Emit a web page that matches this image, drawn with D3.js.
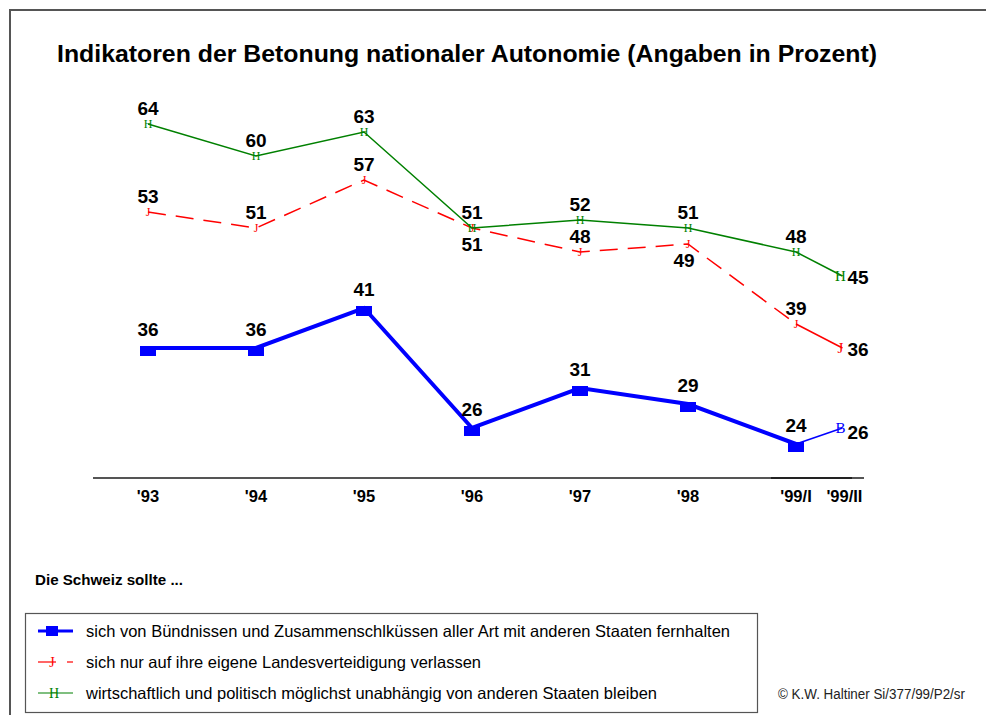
<!DOCTYPE html>
<html>
<head>
<meta charset="utf-8">
<script src="https://cdn.jsdelivr.net/npm/d3@7"></script>
<style>
  body { margin: 0; background: #fff; }
  text { font-family: Arial, "Liberation Sans", sans-serif; }
</style>
</head>
<body>
<div id="chart"></div>
<script>
// survey waves and the three indicators (percent)
const periods = ["'93", "'94", "'95", "'96", "'97", "'98", "'99/I", "'99/II"];
const surveyTime = [1993, 1994, 1995, 1996, 1997, 1998, 1999, 1999.43];
const fernhalten = [36, 36, 41, 26, 31, 29, 24, 26];
const landesverteidigung = [53, 51, 57, 51, 48, 49, 39, 36];
const unabhaengig = [64, 60, 63, 51, 52, 51, 48, 45];
const legendLabels = [
  "sich von Bündnissen und Zusammenschlküssen aller Art mit anderen Staaten fernhalten",
  "sich nur auf ihre eigene Landesverteidigung verlassen",
  "wirtschaftlich und politisch möglichst unabhängig von anderen Staaten bleiben"
];
const legendWidths = [644, 395, 571];

const w = 986;
const h = 715;
const svg = d3.select("#chart").append("svg").attr("width", w).attr("height", h);

const x = d3.scaleLinear().domain([1993, 1999]).range([148, 796]);
const y = d3.scaleLinear().domain([0, 64]).range([636, 124]);

// frame
svg.append("path")
  .attr("d", "M10," + h + "V10H" + w)
  .attr("fill", "none")
  .attr("stroke", "#555")
  .attr("stroke-width", 2);

svg.append("text")
  .attr("x", 57)
  .attr("y", 62)
  .attr("font-size", 24)
  .attr("font-weight", "bold")
  .attr("textLength", 820)
  .attr("lengthAdjust", "spacingAndGlyphs")
  .text("Indikatoren der Betonung nationaler Autonomie (Angaben in Prozent)");

// x axis
const xAxis = svg.append("g").attr("transform", "translate(0,478)");
xAxis.append("line")
  .attr("x1", 93).attr("x2", 864)
  .attr("stroke", "#555").attr("stroke-width", 2);
xAxis.append("line")
  .attr("x1", 771).attr("x2", 852)
  .attr("stroke", "#222").attr("stroke-width", 2);
xAxis.selectAll("text.tick")
  .data(periods)
  .enter()
  .append("text")
  .attr("class", "tick")
  .attr("x", (d, i) => (i === 7 ? x(surveyTime[i]) + 2 : x(surveyTime[i])))
  .attr("y", 24)
  .attr("text-anchor", "middle")
  .attr("font-size", 16.5)
  .attr("font-weight", "bold")
  .text((d) => d);

const series = [
  { values: fernhalten, color: "#0000ff", width: 4, dash: null, glyph: "B",
    place: ["t", "t", "t", "t", "t", "t", "t", "r"] },
  { values: landesverteidigung, color: "#ff0000", width: 1.5, dash: "18,10", glyph: "J",
    place: ["t", "t", "t", "b", "t", "bl", "t", "r"] },
  { values: unabhaengig, color: "#008000", width: 1.5, dash: null, glyph: "H",
    place: ["t", "t", "t", "t", "t", "t", "t", "r"] }
];

const line = d3.line().x((d) => x(d.t)).y((d) => y(d.v));

series.forEach((s, si) => {
  const pts = s.values.map((v, i) => ({ v: v, t: surveyTime[i], i: i }));
  const g = svg.append("g");
  // main stretch up to '99/I
  g.append("path")
    .attr("d", line(pts.slice(0, 7)))
    .attr("fill", "none")
    .attr("stroke", s.color)
    .attr("stroke-width", s.width)
    .attr("stroke-dasharray", s.dash);
  // last wave drawn thin and solid
  g.append("path")
    .attr("d", line(pts.slice(6)))
    .attr("fill", "none")
    .attr("stroke", s.color)
    .attr("stroke-width", 1.5);

  // markers
  pts.forEach((p) => {
    if (p.i === 7) {
      g.append("text")
        .attr("x", x(p.t) - 2)
        .attr("y", y(p.v) + 5)
        .attr("text-anchor", "middle")
        .style("font-family", "'Liberation Serif', serif")
        .attr("font-size", 15)
        .attr("fill", s.color)
        .text(s.glyph);
    } else if (si === 0) {
      g.append("rect")
        .attr("x", x(p.t) - 8)
        .attr("y", y(p.v) - 2)
        .attr("width", 16)
        .attr("height", 10)
        .attr("fill", s.color);
    } else {
      g.append("text")
        .attr("x", x(p.t))
        .attr("y", y(p.v) + 4)
        .attr("text-anchor", "middle")
        .style("font-family", "'Liberation Serif', serif")
        .attr("font-size", 12)
        .attr("fill", s.color)
        .text(s.glyph);
    }
  });

  // value labels
  g.selectAll("text.val")
    .data(pts)
    .enter()
    .append("text")
    .attr("class", "val")
    .attr("font-size", 19)
    .attr("font-weight", "bold")
    .attr("text-anchor", (d) => (s.place[d.i] === "r" ? "start" : "middle"))
    .attr("x", (d) => {
      const pl = s.place[d.i];
      if (pl === "r") return x(d.t) + 5;
      if (pl === "bl") return x(d.t) - 4;
      return x(d.t);
    })
    .attr("y", (d) => {
      const pl = s.place[d.i];
      const off = si === 0 ? 3 : 0;
      if (pl === "r") return y(d.v) + 8 + off;
      if (pl === "b" || pl === "bl") return y(d.v) + 23;
      return y(d.v) - 9 + (si === 0 ? -3 : 0);
    })
    .text((d) => d.v);
});

// legend
svg.append("text")
  .attr("x", 35)
  .attr("y", 585)
  .attr("font-size", 14)
  .attr("font-weight", "bold")
  .attr("textLength", 148)
  .attr("lengthAdjust", "spacingAndGlyphs")
  .text("Die Schweiz sollte ...");

svg.append("rect")
  .attr("x", 25.5).attr("y", 613.5)
  .attr("width", 732).attr("height", 99)
  .attr("fill", "none")
  .attr("stroke", "#555")
  .attr("stroke-width", 1.2);

const leg = svg.selectAll("g.leg")
  .data(series)
  .enter()
  .append("g")
  .attr("class", "leg")
  .attr("transform", (d, i) => "translate(0," + (631 + i * 31) + ")");

leg.each(function (s, i) {
  const g = d3.select(this);
  if (i === 0) {
    g.append("line").attr("x1", 38).attr("x2", 73)
      .attr("stroke", s.color).attr("stroke-width", 3);
    g.append("rect").attr("x", 46).attr("y", -5).attr("width", 12).attr("height", 10)
      .attr("fill", s.color);
  } else if (i === 1) {
    g.append("line").attr("x1", 38).attr("x2", 56)
      .attr("stroke", s.color).attr("stroke-width", 1.2);
    g.append("line").attr("x1", 67).attr("x2", 73)
      .attr("stroke", s.color).attr("stroke-width", 1.2);
    g.append("text").attr("x", 52).attr("y", 5).attr("text-anchor", "middle")
      .style("font-family", "'Liberation Serif', serif")
      .attr("font-size", 14).attr("fill", s.color).text(s.glyph);
  } else {
    g.append("line").attr("x1", 38).attr("x2", 73)
      .attr("stroke", s.color).attr("stroke-width", 1.2);
    g.append("text").attr("x", 54).attr("y", 5).attr("text-anchor", "middle")
      .style("font-family", "'Liberation Serif', serif")
      .attr("font-size", 14).attr("fill", s.color).text(s.glyph);
  }
  g.append("text")
    .attr("x", 86)
    .attr("y", 6)
    .attr("font-size", 16.5)
    .attr("textLength", legendWidths[i])
    .attr("lengthAdjust", "spacingAndGlyphs")
    .text(legendLabels[i]);
});

svg.append("text")
  .attr("x", 778)
  .attr("y", 699)
  .attr("font-size", 14)
  .attr("fill", "#222")
  .attr("textLength", 187)
  .attr("lengthAdjust", "spacingAndGlyphs")
  .text("© K.W. Haltiner  Si/377/99/P2/sr");
</script>
</body>
</html>
